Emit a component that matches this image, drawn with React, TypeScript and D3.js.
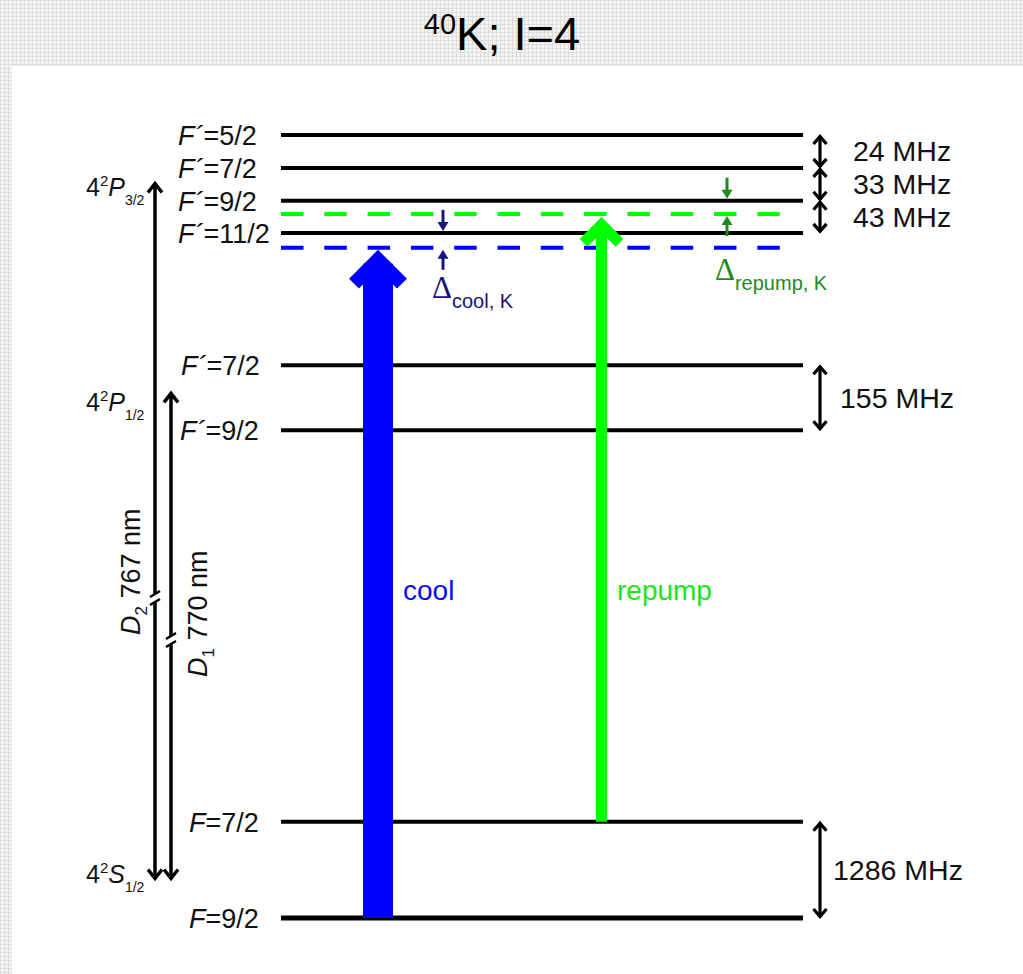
import React, { useRef, useEffect } from 'react';
import * as d3 from 'd3';

// hyperfine levels, top to bottom (diagram units, not to scale)
const levelF = ['5/2', '7/2', '9/2', '11/2', '7/2', '9/2', '7/2', '9/2'];
const levelPrimed = [true, true, true, true, true, true, false, false];
const levelEnergy = [100, 95.8, 91.6, 87.5, 70.6, 62.3, 12.3, 0];

// splittings between neighbouring levels
const splitText = ['24 MHz', '33 MHz', '43 MHz', '155 MHz', '1286 MHz'];
const splitUpper = [0, 1, 2, 4, 6];
const splitLower = [1, 2, 3, 5, 7];

// fine structure states
const stateN = ['4', '4', '4'];
const stateL = ['P', 'P', 'S'];
const stateJ = ['3/2', '1/2', '1/2'];
const stateEnergy = [94.0, 67.2, 4.85];

// D lines (upper state -> ground state)
const lineIndex = ['2', '1'];
const lineWavelength = ['767 nm', '770 nm'];
const lineUpper = [0, 1];
const lineLower = [2, 2];

// lasers
const laserName = ['cool', 'repump'];
const laserFrom = [7, 6];
const laserEnergy = [85.6, 89.9];
const laserRef = [3, 2];
const detuneSub = ['cool, K', 'repump, K'];

export default function App() {
    const svgRef = useRef(null);

    useEffect(() => {
        const W = 1023, H = 974;
        const font = 'Liberation Sans, Arial, Helvetica, sans-serif';
        const svg = d3.select(svgRef.current).attr('width', W).attr('height', H);
        svg.selectAll('*').remove();

        const y = d3.scaleLinear().domain([0, 100]).range([918, 135]);
        const x0 = 281, x1 = 803;

        // background
        const pat = svg.append('defs').append('pattern')
            .attr('id', 'grid').attr('width', 4).attr('height', 4)
            .attr('patternUnits', 'userSpaceOnUse');
        pat.append('rect').attr('width', 4).attr('height', 4).attr('fill', '#f4f4f4');
        pat.append('rect').attr('width', 4).attr('height', 1).attr('fill', '#dddddd');
        pat.append('rect').attr('width', 1).attr('height', 4).attr('fill', '#dddddd');
        svg.append('rect').attr('width', W).attr('height', H).attr('fill', '#fff');
        svg.append('rect').attr('width', W).attr('height', 66).attr('fill', 'url(#grid)');
        svg.append('rect').attr('y', 66).attr('width', 12).attr('height', H - 66).attr('fill', 'url(#grid)');

        // title
        const title = svg.append('text')
            .attr('x', 502).attr('y', 50)
            .attr('text-anchor', 'middle')
            .attr('font-family', font).attr('font-size', 47);
        title.append('tspan').attr('font-size', 29).attr('dy', -16).text('40');
        title.append('tspan').attr('dy', 16).text('K; I=4');

        const chevron = (g, x, yTip, dir, hw, hh, color, sw) => {
            g.append('polyline')
                .attr('points', `${x - hw},${yTip + dir * hh} ${x},${yTip} ${x + hw},${yTip + dir * hh}`)
                .attr('fill', 'none').attr('stroke', color).attr('stroke-width', sw)
                .attr('stroke-linejoin', 'miter');
        };

        const dblArrow = (x, ya, yb, sw, hw, hh) => {
            const g = svg.append('g');
            g.append('line').attr('x1', x).attr('x2', x).attr('y1', ya + 1).attr('y2', yb - 1)
                .attr('stroke', '#000').attr('stroke-width', sw);
            chevron(g, x, ya + 1.5, 1, hw, hh, '#000', sw);
            chevron(g, x, yb - 1.5, -1, hw, hh, '#000', sw);
            return g;
        };

        // levels
        svg.selectAll('.level')
            .data(levelEnergy)
            .join('line')
            .attr('class', 'level')
            .attr('x1', x0).attr('x2', x1)
            .attr('y1', d => y(d)).attr('y2', d => y(d))
            .attr('stroke', '#000')
            .attr('stroke-width', (d, i) => (i === levelEnergy.length - 1 ? 5 : 4));

        const labelX = [178, 178, 178, 178, 181, 180, 189, 189];
        levelF.forEach((f, i) => {
            const t = svg.append('text')
                .attr('x', labelX[i]).attr('y', y(levelEnergy[i]) + 10)
                .attr('font-family', font).attr('font-size', 27)
                .attr('fill', '#111');
            t.append('tspan').attr('font-style', 'italic').text(levelPrimed[i] ? 'F\u00B4' : 'F');
            t.append('tspan').text('=' + f);
        });

        // splittings on the right
        const splitX = [853, 853, 853, 840, 833];
        splitText.forEach((s, i) => {
            const ya = y(levelEnergy[splitUpper[i]]);
            const yb = y(levelEnergy[splitLower[i]]);
            dblArrow(820, ya, yb, 3.2, 6.5, 7.5);
            svg.append('text')
                .attr('x', splitX[i]).attr('y', (ya + yb) / 2 + 10)
                .attr('font-family', font).attr('font-size', 28.5)
                .attr('fill', '#111').text(s);
        });

        // fine structure labels
        const stateDy = [14, 19, 3];
        stateL.forEach((l, i) => {
            const t = svg.append('text')
                .attr('x', 86).attr('y', y(stateEnergy[i]) + stateDy[i])
                .attr('font-family', font).attr('font-size', 25)
                .attr('fill', '#111');
            t.append('tspan').text(stateN[i]);
            t.append('tspan').attr('font-size', 15).attr('dy', -10).text('2');
            t.append('tspan').attr('font-style', 'italic').attr('dy', 10).text(l);
            t.append('tspan').attr('font-size', 14).attr('dy', 9).text(stateJ[i]);
        });

        // D lines with breaks
        const lineX = [155, 171];
        const breakY = [598, 640];
        const textX = [140, 207];
        const textY = [635, 677];
        lineIndex.forEach((n, i) => {
            const g = dblArrow(lineX[i], y(stateEnergy[lineUpper[i]]), y(stateEnergy[lineLower[i]]), 3.5, 7, 9);
            const x = lineX[i], by = breakY[i];
            g.append('rect').attr('x', x - 4).attr('y', by - 4).attr('width', 8).attr('height', 8).attr('fill', '#fff');
            g.append('line').attr('x1', x - 5).attr('y1', by - 1).attr('x2', x + 5).attr('y2', by - 7)
                .attr('stroke', '#000').attr('stroke-width', 2.5);
            g.append('line').attr('x1', x - 5).attr('y1', by + 7).attr('x2', x + 5).attr('y2', by + 1)
                .attr('stroke', '#000').attr('stroke-width', 2.5);
            const t = svg.append('text')
                .attr('transform', `translate(${textX[i]},${textY[i]}) rotate(-90)`)
                .attr('font-family', font).attr('font-size', 27)
                .attr('fill', '#111');
            t.append('tspan').attr('font-style', 'italic').text('D');
            t.append('tspan').attr('font-size', 17).attr('dy', 7).text(n);
            t.append('tspan').attr('dy', -7).text(' ' + lineWavelength[i]);
        });

        // detuned laser lines
        const laserColor = ['#0000ff', '#00ff00'];
        const laserText = ['#0a0aff', '#19e619'];
        laserEnergy.forEach((e, i) => {
            svg.append('line')
                .attr('x1', x0).attr('x2', 782)
                .attr('y1', y(e)).attr('y2', y(e))
                .attr('stroke', laserColor[i]).attr('stroke-width', 4)
                .attr('stroke-dasharray', '22.5 20.8');
        });

        // laser arrows
        const laserX = [378, 601.5];
        const shaftW = [30, 11];
        const headSw = [14, 11];
        const headHalf = [24, 18];
        const tipGap = [2, 3];
        laserName.forEach((name, i) => {
            const cx = laserX[i];
            const yTip = y(laserEnergy[i]) + tipGap[i];
            const apex = yTip + (headSw[i] / 2) * Math.SQRT2;
            const yBot = y(levelEnergy[laserFrom[i]]);
            svg.append('rect')
                .attr('x', cx - shaftW[i] / 2).attr('width', shaftW[i])
                .attr('y', apex + 4).attr('height', yBot - apex - 4)
                .attr('fill', laserColor[i]);
            chevron(svg, cx, apex, 1, headHalf[i], headHalf[i], laserColor[i], headSw[i]);
            svg.append('text')
                .attr('x', cx + shaftW[i] / 2 + 10).attr('y', 600)
                .attr('font-family', font).attr('font-size', 28)
                .attr('fill', laserText[i]).text(name);
        });

        // detuning markers
        const deltaX = [443, 727];
        const deltaColor = ['#16167e', '#1f8a1f'];
        const deltaLabel = [[432, 298], [715, 280]];
        const smallArrow = (x, yFrom, yTip, color) => {
            const dir = yTip > yFrom ? 1 : -1;
            svg.append('line').attr('x1', x).attr('x2', x).attr('y1', yFrom).attr('y2', yTip - dir * 6)
                .attr('stroke', color).attr('stroke-width', 3);
            svg.append('path')
                .attr('d', `M${x - 5.5},${yTip - dir * 9} L${x},${yTip} L${x + 5.5},${yTip - dir * 9} Z`)
                .attr('fill', color);
        };
        laserEnergy.forEach((e, i) => {
            const yRef = y(levelEnergy[laserRef[i]]) - 2;
            const yLas = y(e) + 2;
            smallArrow(deltaX[i], yRef - 21, yRef, deltaColor[i]);
            smallArrow(deltaX[i], yLas + 20, yLas, deltaColor[i]);
            const t = svg.append('text')
                .attr('x', deltaLabel[i][0]).attr('y', deltaLabel[i][1])
                .attr('font-family', font).attr('font-size', 28)
                .attr('fill', deltaColor[i]);
            t.append('tspan').attr('font-family', 'Liberation Serif, serif').attr('font-size', 31).text('\u0394');
            t.append('tspan').attr('font-size', 20).attr('dy', 10).text(detuneSub[i]);
        });
    }, []);

    return (
        <svg ref={svgRef} style={{ position: 'absolute', left: 0, top: 0 }}></svg>
    );
}
